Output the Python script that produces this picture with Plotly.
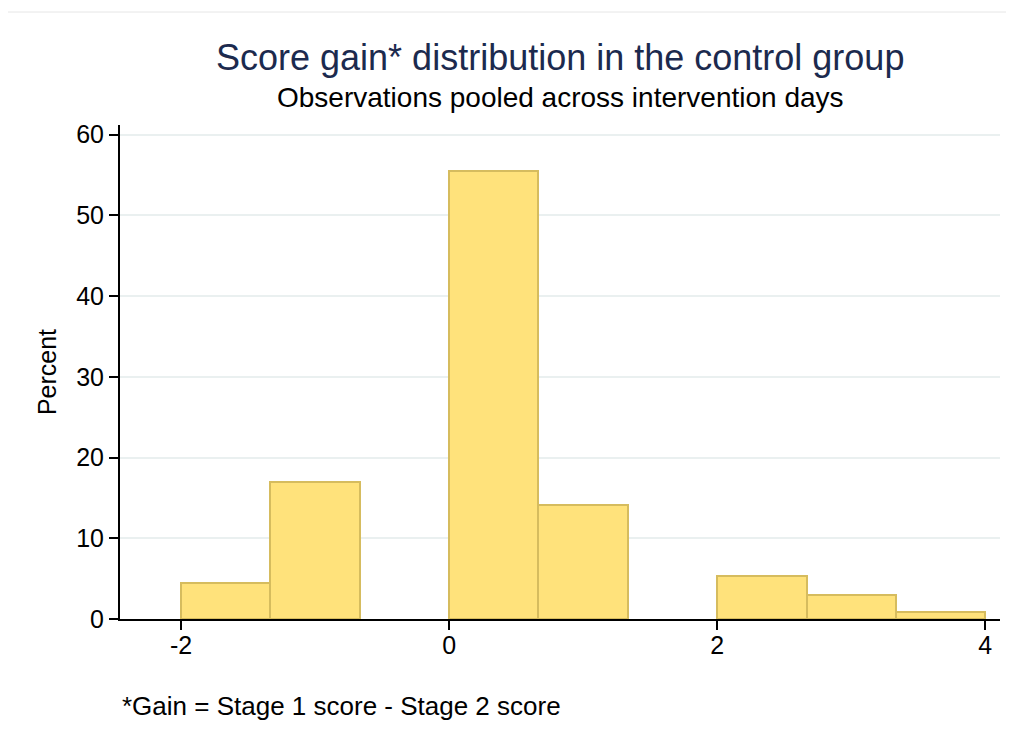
import plotly.graph_objects as go

bin_edges_left = [-2.0, -4/3, -2/3, 0.0, 2/3, 4/3, 2.0, 8/3, 10/3]
bin_width = 2/3
percent = [4.5, 17.0, 0.0, 55.5, 14.1, 0.0, 5.3, 3.0, 0.9]
x_ticks = [-2, 0, 2, 4]
x_tick_labels = ["-2", "0", "2", "4"]
y_ticks = [0, 10, 20, 30, 40, 50, 60]

centers = [l + bin_width/2 for l in bin_edges_left]

fig = go.Figure()
fig.add_trace(go.Bar(
    x=centers, y=percent, width=[bin_width]*len(centers),
    marker=dict(color="#FFE27B",
                line=dict(color="#D6BC5E", width=[2 if v > 0 else 0 for v in percent])),
    showlegend=False,
))

font = "Liberation Sans, Arial, sans-serif"
L, T, R, B = 112, 117, 22, 137
fig.update_layout(
    width=1014, height=748,
    paper_bgcolor="white", plot_bgcolor="white",
    margin=dict(l=L, r=R, t=T, b=B),
    font=dict(family=font, size=25, color="black"),
    bargap=0,
    xaxis=dict(range=[-2.455, 4.11], tickvals=x_ticks, ticktext=x_tick_labels,
               ticks="outside", ticklen=9, ticklabelstandoff=-6,
               tickwidth=1.5, tickcolor="black", showgrid=False, zeroline=False,
               showline=True, linecolor="black", linewidth=2,
               tickfont=dict(size=25)),
    yaxis=dict(range=[0, 61.2], tickvals=y_ticks, ticks="outside", ticklen=9,
               tickwidth=1.5, tickcolor="black", showgrid=True, gridcolor="#EAF0F0",
               gridwidth=2, zeroline=False, showline=True, linecolor="black",
               linewidth=2, tickfont=dict(size=25),
               title=dict(text="Percent", font=dict(size=25), standoff=12)),
    annotations=[
        dict(text="Score gain* distribution in the control group", xref="paper", yref="paper",
             x=0.5, y=1.0, yshift=68, showarrow=False, xanchor="center", yanchor="middle",
             font=dict(size=36, color="#1C2A4E", family=font)),
        dict(text="Observations pooled across intervention days", xref="paper", yref="paper",
             x=0.5, y=1.0, yshift=28, showarrow=False, xanchor="center", yanchor="middle",
             font=dict(size=28, color="black", family=font)),
        dict(text="*Gain = Stage 1 score - Stage 2 score", xref="paper", yref="paper",
             x=0.0, y=0.0, xshift=0, yshift=-87, showarrow=False, xanchor="left", yanchor="middle",
             font=dict(size=26, color="black", family=font)),
    ],
    shapes=[dict(type="rect", xref="paper", yref="paper",
                 x0=(4-120)/880, x1=(1010-120)/880, y0=-(760-619)/494, y1=1+(125-12)/494,
                 line=dict(color="#E6E6E6", width=1), fillcolor="rgba(0,0,0,0)", layer="below")],
)

fig.write_html("out.html")
